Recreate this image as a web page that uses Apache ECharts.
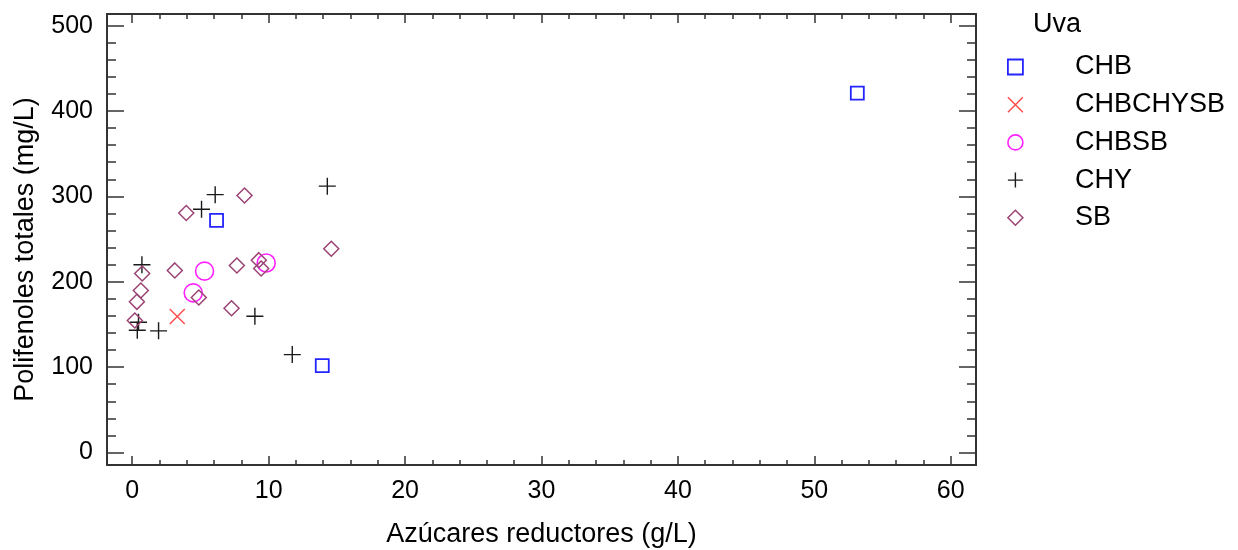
<!DOCTYPE html>
<html>
<head>
<meta charset="utf-8">
<script src="https://cdn.jsdelivr.net/npm/echarts@6/dist/echarts.min.js"></script>
<style>
  html, body { margin: 0; padding: 0; background: #fff; }
  #chart { width: 1238px; height: 550px; }
</style>
</head>
<body>
<div id="chart"></div>
<script>
// Azúcares reductores (g/L) vs. Polifenoles totales (mg/L), grouped by grape variety
const CHB = [[6.18, 272], [13.93, 101.8], [53.15, 421]];
const CHBCHYSB = [[3.3, 159.3]];
const CHBSB = [[4.47, 187], [5.3, 212.5], [9.82, 222]];
const CHY = [[0.71, 220], [0.46, 152.6], [0.37, 143.2], [1.93, 142.5], [5.08, 285],
             [6.08, 302], [8.99, 159.6], [11.73, 114.7], [14.3, 312]];
const SB = [[0.19, 154.6], [0.34, 176.5], [0.63, 189.8], [0.73, 209.7], [3.12, 213.3],
            [3.96, 280.5], [4.88, 181.6], [7.28, 169], [7.67, 219], [8.23, 301],
            [9.28, 225.3], [9.45, 215.6], [14.59, 238.7]];

const xRange = [-1.85, 61.85];
const yRange = [-14.6, 513.6];

const FONT = 'Liberation Sans, Arial, sans-serif';
const FRAME = '#333333';
const TEXT = '#000000';

const PLUS = 'path://M10,0 L10,20 M0,10 L20,10';
const CROSS = 'path://M0,0 L20,20 M20,0 L0,20';

const groups = [
  { name: 'CHB', data: CHB, symbol: 'rect', size: 13, color: '#2424ff', width: 1.8 },
  { name: 'CHBCHYSB', data: CHBCHYSB, symbol: CROSS, size: 15, color: '#ff4a4a', width: 1.4 },
  { name: 'CHBSB', data: CHBSB, symbol: 'circle', size: 18, color: '#ff22ff', width: 1.6 },
  { name: 'CHY', data: CHY, symbol: PLUS, size: 17, color: '#1a1a1a', width: 1.4 },
  { name: 'SB', data: SB, symbol: 'diamond', size: 15, color: '#9b4474', width: 1.5 }
];

const tickLabels = v => (Math.abs(v % 10) < 1e-9 ? String(Math.round(v)) : '');
const tickLabelsY = v => (Math.abs(v % 100) < 1e-9 ? String(Math.round(v)) : '');

function xAxisDef(pos, shown) {
  return {
    type: 'value', position: pos, min: xRange[0], max: xRange[1],
    name: shown ? 'Azúcares reductores (g/L)' : '',
    nameLocation: 'middle', nameGap: 56,
    nameTextStyle: { fontFamily: FONT, fontSize: 27, color: TEXT },
    axisLine: { show: true, onZero: false, lineStyle: { color: FRAME, width: 2 } },
    axisTick: { show: true, inside: true, length: 9, lineStyle: { color: FRAME, width: 1.5 } },
    minorTick: { show: true, splitNumber: 5, length: 5, lineStyle: { color: FRAME, width: 1.5 } },
    axisLabel: { show: shown, formatter: tickLabels, margin: 14, fontFamily: FONT, fontSize: 25, color: TEXT,
                 showMinLabel: true, showMaxLabel: true },
    splitLine: { show: false }
  };
}
function yAxisDef(pos, shown) {
  return {
    type: 'value', position: pos, min: yRange[0], max: yRange[1],
    name: shown ? 'Polifenoles totales (mg/L)' : '',
    nameLocation: 'middle', nameGap: 68,
    nameTextStyle: { fontFamily: FONT, fontSize: 27, color: TEXT, padding: [0, 0, 0, -20] },
    axisLine: { show: true, onZero: false, lineStyle: { color: FRAME, width: 2 } },
    axisTick: { show: true, inside: true, length: 17, lineStyle: { color: FRAME, width: 1.5 } },
    minorTick: { show: true, splitNumber: 5, length: 9, lineStyle: { color: FRAME, width: 1.5 } },
    axisLabel: { show: shown, formatter: tickLabelsY, margin: 14, fontFamily: FONT, fontSize: 25, color: TEXT,
                 padding: [2, 0, 0, 0] },
    splitLine: { show: false }
  };
}

const chart = echarts.init(document.getElementById('chart'), null, { renderer: 'canvas' });
chart.setOption({
  animation: false,
  backgroundColor: '#ffffff',
  title: {
    text: 'Uva', left: 1028, top: 6,
    textStyle: { fontFamily: FONT, fontSize: 27, fontWeight: 'normal', color: TEXT }
  },
  legend: {
    orient: 'vertical', left: 1002, top: 48,
    itemWidth: 15, itemHeight: 15, itemGap: 9.7,
    textStyle: { fontFamily: FONT, fontSize: 27, color: TEXT, lineHeight: 28, padding: [0, 0, 0, 47] },
    data: groups.map(g => ({
      name: g.name, icon: g.symbol,
      itemStyle: { color: 'transparent', borderColor: g.color, borderWidth: g.width }
    }))
  },
  grid: { left: 107, top: 14, right: 262, bottom: 85, containLabel: false, outerBoundsMode: 'none' },
  xAxis: [xAxisDef('bottom', true), xAxisDef('top', false)],
  yAxis: [yAxisDef('left', true), yAxisDef('right', false)],
  series: groups.map(g => ({
    type: 'scatter', name: g.name, data: g.data,
    xAxisIndex: 0, yAxisIndex: 0,
    symbol: g.symbol, symbolSize: g.size, symbolKeepAspect: true,
    itemStyle: { color: 'transparent', borderColor: g.color, borderWidth: g.width, opacity: 1 },
    emphasis: { disabled: true }
  }))
});
</script>
</body>
</html>
